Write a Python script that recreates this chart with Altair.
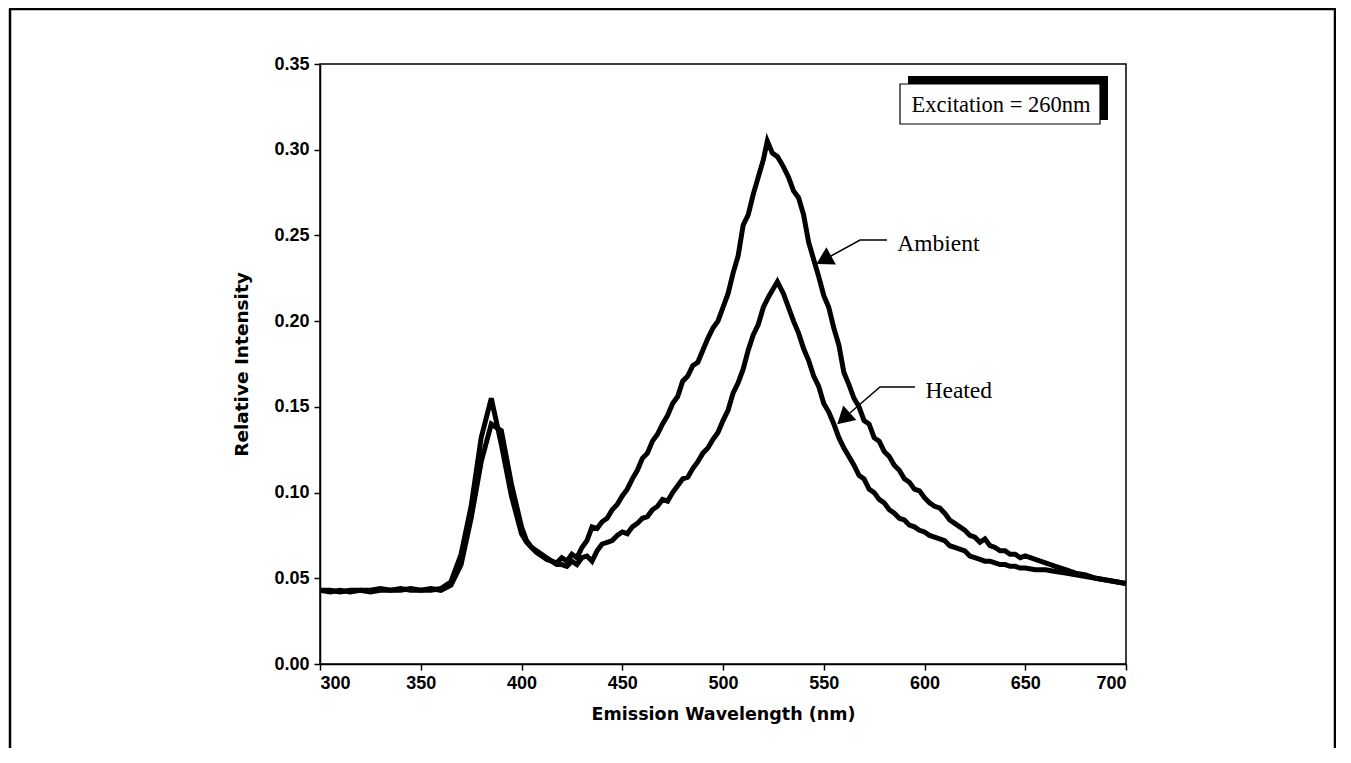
import altair as alt
import pandas as pd


def grid(a, b, step):
    out, v = [], a
    while v <= b + 1e-9:
        out.append(round(v, 1))
        v += step
    return out


# ---------------- data ----------------
ambient_wl = grid(300, 395, 5) + grid(400, 520, 2.5) + [522, 524.5, 527] + grid(530, 650, 2.5) + grid(655, 700, 5)
ambient_val = [
    0.043, 0.043, 0.042, 0.043, 0.043, 0.042, 0.043, 0.043, 0.044, 0.043,
    0.043, 0.044, 0.043, 0.046, 0.058, 0.085, 0.118, 0.140, 0.136, 0.105,
    # 400 - 520
    0.080, 0.072, 0.068, 0.066, 0.064, 0.062, 0.060, 0.059, 0.062, 0.060,
    0.064, 0.062, 0.068, 0.072, 0.080, 0.079, 0.083, 0.085, 0.090, 0.093,
    0.098, 0.102, 0.108, 0.113, 0.120, 0.123, 0.130, 0.134, 0.140, 0.145,
    0.152, 0.156, 0.165, 0.168, 0.174, 0.176, 0.183, 0.190, 0.196, 0.200,
    0.208, 0.216, 0.228, 0.238, 0.256, 0.262, 0.274, 0.284, 0.294,
    # peak
    0.305, 0.298, 0.296,
    # 530 - 650
    0.290, 0.284, 0.276, 0.272, 0.262, 0.246, 0.236, 0.226, 0.215, 0.208,
    0.196, 0.186, 0.170, 0.163, 0.155, 0.150, 0.142, 0.140, 0.132, 0.130,
    0.124, 0.121, 0.116, 0.113, 0.108, 0.106, 0.102, 0.101, 0.097, 0.094,
    0.092, 0.091, 0.088, 0.084, 0.082, 0.080, 0.078, 0.075, 0.074, 0.071,
    0.073, 0.069, 0.068, 0.066, 0.066, 0.064, 0.064, 0.062, 0.063,
    # 655 - 700
    0.061, 0.059, 0.057, 0.055, 0.053, 0.052, 0.050, 0.049, 0.048, 0.047,
]

heated_wl = grid(300, 395, 5) + grid(400, 525, 2.5) + [527] + grid(530, 650, 2.5) + grid(655, 700, 5)
heated_val = [
    0.043, 0.042, 0.043, 0.042, 0.043, 0.043, 0.044, 0.043, 0.043, 0.044,
    0.043, 0.043, 0.044, 0.048, 0.064, 0.092, 0.132, 0.155, 0.128, 0.098,
    # 400 - 525
    0.076, 0.071, 0.068, 0.065, 0.063, 0.061, 0.060, 0.058, 0.058, 0.057,
    0.060, 0.058, 0.062, 0.063, 0.060, 0.066, 0.070, 0.071, 0.072, 0.075,
    0.077, 0.076, 0.080, 0.082, 0.085, 0.086, 0.090, 0.092, 0.096, 0.095,
    0.100, 0.104, 0.108, 0.109, 0.114, 0.118, 0.123, 0.126, 0.131, 0.135,
    0.142, 0.148, 0.158, 0.164, 0.172, 0.183, 0.192, 0.198, 0.208, 0.214,
    0.219,
    # peak
    0.223,
    # 530 - 650
    0.216, 0.208, 0.200, 0.193, 0.184, 0.177, 0.168, 0.162, 0.152, 0.147,
    0.140, 0.132, 0.126, 0.121, 0.116, 0.110, 0.108, 0.102, 0.100, 0.096,
    0.094, 0.090, 0.088, 0.085, 0.084, 0.081, 0.080, 0.078, 0.077, 0.075,
    0.074, 0.073, 0.072, 0.069, 0.068, 0.067, 0.066, 0.063, 0.062, 0.061,
    0.060, 0.060, 0.059, 0.058, 0.058, 0.057, 0.057, 0.056, 0.056,
    # 655 - 700
    0.055, 0.055, 0.054, 0.053, 0.052, 0.051, 0.050, 0.049, 0.048, 0.047,
]

assert len(ambient_wl) == len(ambient_val), (len(ambient_wl), len(ambient_val))
assert len(heated_wl) == len(heated_val), (len(heated_wl), len(heated_val))

x_ticks = [300, 350, 400, 450, 500, 550, 600, 650, 700]
y_ticks = [0.00, 0.05, 0.10, 0.15, 0.20, 0.25, 0.30, 0.35]

box_text = "Excitation = 260nm"

# annotation leaders (data units): label anchor, elbow, arrow head
amb_label = ("Ambient", 586.5, 0.2450)
amb_path_x = [581.4, 568.0, 550.0]
amb_path_y = [0.2473, 0.2473, 0.2357]
heat_label = ("Heated", 600.5, 0.1595)
heat_path_x = [595.3, 577.9, 559.8]
heat_path_y = [0.1616, 0.1616, 0.1432]

# ---------------- build tables ----------------
spec = pd.concat([
    pd.DataFrame({"wl": ambient_wl, "val": ambient_val, "series": "Ambient"}),
    pd.DataFrame({"wl": heated_wl, "val": heated_val, "series": "Heated"}),
], ignore_index=True)

serif = "Liberation Serif"
sans = "Liberation Sans"
title_font = "DejaVu Sans"

xscale = alt.Scale(domain=[300, 700], nice=False, zero=False)
yscale = alt.Scale(domain=[0, 0.35], nice=False)
xenc = alt.X("wl:Q", scale=xscale,
             axis=alt.Axis(values=x_ticks, title="Emission Wavelength (nm)", format="d",
                           titlePadding=13, labelPadding=4, titleFontSize=17.5))
yenc = alt.Y("val:Q", scale=yscale,
             axis=alt.Axis(values=y_ticks, title="Relative Intensity", format=".2f",
                           titlePadding=22, labelPadding=5, titleFontSize=18.5))

lines = alt.Chart(spec).mark_line(color="black", strokeWidth=5, strokeJoin="miter").encode(
    x=xenc, y=yenc, detail="series:N",
)

one = pd.DataFrame({"k": [0]})

# leader lines
lead = pd.DataFrame({
    "wl": amb_path_x + heat_path_x,
    "val": amb_path_y + heat_path_y,
    "grp": ["a"] * 3 + ["h"] * 3,
    "o": [0, 1, 2, 0, 1, 2],
})
leaders = alt.Chart(lead).mark_line(color="black", strokeWidth=1.5).encode(
    x=xenc, y=yenc, detail="grp:N", order="o:Q",
)

heads = pd.DataFrame({
    "wl": [amb_path_x[2], heat_path_x[2]],
    "val": [amb_path_y[2], heat_path_y[2]],
    "ang": [241, 228],
})
arrows = alt.Chart(heads).mark_point(shape="triangle-up", filled=True, color="black",
                                     size=380, opacity=1).encode(
    x=xenc, y=yenc, angle=alt.Angle("ang:Q", scale=None),
)

labels_df = pd.DataFrame({
    "txt": [amb_label[0], heat_label[0]],
    "wl": [amb_label[1], heat_label[1]],
    "val": [amb_label[2], heat_label[2]],
})
labels = alt.Chart(labels_df).mark_text(font=serif, fontSize=23.5, align="left",
                                        baseline="middle", color="black").encode(
    x=xenc, y=yenc, text="txt:N",
)

# inset text box with shadow
shadow = alt.Chart(one).mark_rect(color="black").encode(
    x=alt.value(588), x2=alt.value(788), y=alt.value(12), y2=alt.value(56))
box = alt.Chart(one).mark_rect(fill="white", stroke="black", strokeWidth=1.2).encode(
    x=alt.value(580), x2=alt.value(780), y=alt.value(20), y2=alt.value(60))
box_label = alt.Chart(one).mark_text(font=serif, fontSize=22.5, align="center",
                                     baseline="middle", color="black").encode(
    x=alt.value(681), y=alt.value(41), text=alt.value(box_text))

# outer page frame
frame_l = alt.Chart(one).mark_rule(color="black", strokeWidth=2.5).encode(
    x=alt.value(-310), y=alt.value(-55), y2=alt.value(800))
frame_t = alt.Chart(one).mark_rule(color="black", strokeWidth=2.5).encode(
    x=alt.value(-311), x2=alt.value(1016), y=alt.value(-55))
frame_r = alt.Chart(one).mark_rule(color="black", strokeWidth=2.5).encode(
    x=alt.value(1015), y=alt.value(-55), y2=alt.value(800))

chart = alt.layer(
    lines, leaders, arrows, labels, shadow, box, box_label, frame_l, frame_t, frame_r
).properties(
    width=806, height=600,
    autosize=alt.AutoSizeParams(type="none"),
    padding={"left": 312, "top": 56, "right": 210, "bottom": 84},
    background="white",
).configure_view(
    stroke="black", strokeWidth=1.5
).configure_axis(
    grid=False, domainColor="black", tickColor="black", labelColor="black",
    titleColor="black", labelFont=sans, labelFontWeight="bold", labelFontSize=18,
    titleFont=title_font, titleFontWeight="bold", tickSize=6,
    domainWidth=1.5, tickWidth=1.5,
)

chart.save("out.html", embed_options={"renderer": "svg", "actions": False})
